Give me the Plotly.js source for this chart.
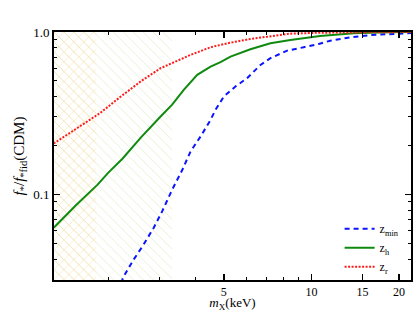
<!DOCTYPE html>
<html>
<head>
<meta charset="utf-8">
<script src="https://cdn.plot.ly/plotly-3.0.1.min.js"></script>
<style>
html,body{margin:0;padding:0;background:#fff;}
#chart{width:415px;height:312px;}
</style>
</head>
<body>
<div id="chart"></div>
<script>
// ---- data ----
const mX_min = [2.22, 2.25, 2.45, 2.65, 2.87, 3.07, 3.32, 3.6, 3.84, 4.16, 4.5, 4.68, 5.0, 5.48, 6.01, 6.68, 7.23, 8.25, 9.41, 10.6, 11.6, 13.6, 16.0, 18.7, 22.0];
const f_min  = [0.0285, 0.0308, 0.0399, 0.0493, 0.0625, 0.079, 0.107, 0.142, 0.184, 0.228, 0.288, 0.332, 0.401, 0.462, 0.520, 0.627, 0.690, 0.768, 0.806, 0.844, 0.884, 0.928, 0.958, 0.972, 0.985];

const mX_h = [1.3, 1.55, 1.84, 2.0, 2.24, 2.59, 3.03, 3.32, 3.64, 4.05, 4.5, 4.87, 5.27, 6.17, 7.23, 8.47, 10.7, 14.0, 18.0, 22.0];
const f_h  = [0.0625, 0.086, 0.115, 0.136, 0.166, 0.224, 0.302, 0.357, 0.441, 0.545, 0.612, 0.652, 0.705, 0.783, 0.852, 0.893, 0.945, 0.982, 0.995, 1.0];

const mX_r = [1.3, 1.6, 1.88, 2.2, 2.59, 3.03, 3.32, 3.84, 4.5, 4.87, 5.27, 6.17, 7.23, 8.47, 10.7, 14.0, 18.0, 22.0];
const f_r  = [0.206, 0.262, 0.318, 0.398, 0.497, 0.599, 0.643, 0.723, 0.806, 0.832, 0.860, 0.906, 0.945, 0.977, 0.990, 0.997, 1.0, 1.0];

const seriesNames = ['z<sub>min</sub>', 'z<sub>h</sub>', 'z<sub>r</sub>'];

// excluded regions (hatched): [lower mX, upper mX]
const hatchGreen  = [1.0, 3.32];
const hatchOrange = [1.0, 1.82];
const hatchY = [0.01, 1.0];

const xTickVals = [5, 10, 15, 20];
const xTickText = ['5', '10', '15', '20'];
const xMinorVals = [2, 3, 4, 6, 7, 8, 9];
const yTickVals = [0.1, 1.0];
const yTickText = ['0.1', '1.0'];
const yMinorVals = [0.03, 0.04, 0.05, 0.06, 0.07, 0.08, 0.09, 0.2, 0.3, 0.4, 0.5, 0.6, 0.7, 0.8, 0.9];

const xRange = [1.303, 22.0];
const yRange = [0.0298, 1.0];

// ---- build ----
function rect(xr, yr){
  return {x:[xr[0], xr[1], xr[1], xr[0], xr[0]], y:[yr[0], yr[0], yr[1], yr[1], yr[0]]};
}
const g = rect(hatchGreen, hatchY);
const o = rect(hatchOrange, hatchY);

const font = 'Liberation Serif, Times New Roman, serif';

function hatch(r, shape, color){
  return {x:r.x, y:r.y, mode:'lines', fill:'toself', line:{width:0, color:'rgba(0,0,0,0)'},
    fillcolor:'rgba(0,0,0,0)',
    fillpattern:{shape:shape, fgcolor:color, bgcolor:'rgba(0,0,0,0)', size:7, solidity:0.1},
    showlegend:false, hoverinfo:'skip'};
}

const traces = [
  hatch(g, '\\', 'rgba(200,222,150,0.6)'),
  hatch(o, '/',  'rgba(252,210,140,0.6)'),
  hatch(o, '\\', 'rgba(252,210,140,0.5)'),
  {x:mX_min, y:f_min, name:seriesNames[0], mode:'lines',
   line:{color:'#0a14ff', width:2, dash:'5px,4px'}},
  {x:mX_h, y:f_h, name:seriesNames[1], mode:'lines',
   line:{color:'#0f8a0f', width:2}},
  {x:mX_r, y:f_r, name:seriesNames[2], mode:'lines',
   line:{color:'#ff1a1a', width:2, dash:'2px,1.5px'}}
];

const layout = {
  width:415, height:312,
  margin:{l:53.5, r:4.3, t:32, b:31.5},
  paper_bgcolor:'#fff', plot_bgcolor:'#fff',
  font:{family:font, size:12, color:'#000'},
  showlegend:true,
  legend:{x:0.80, y:0.265, xanchor:'left', yanchor:'top', bgcolor:'rgba(0,0,0,0)',
          font:{family:font, size:12, color:'#000'}, itemwidth:30, tracegroupgap:0},
  xaxis:{type:'log', range:[Math.log10(xRange[0]), Math.log10(xRange[1])],
    tickmode:'array', tickvals:xTickVals, ticktext:xTickText,
    ticks:'inside', ticklen:6, tickwidth:1.5, tickcolor:'#000',
    minor:{tickmode:'array', tickvals:xMinorVals, ticks:'inside', ticklen:3, tickwidth:1, tickcolor:'#000', showgrid:false},
    showline:true, linewidth:2, linecolor:'#000', mirror:'allticks',
    showgrid:false, zeroline:false,
    tickfont:{family:font, size:12},
    title:{text:'<i>m</i><sub>X</sub>(keV)', font:{family:font, size:13}, standoff:3}},
  yaxis:{type:'log', range:[Math.log10(yRange[0]), Math.log10(yRange[1])],
    tickmode:'array', tickvals:yTickVals, ticktext:yTickText,
    ticks:'inside', ticklen:6, tickwidth:1.5, tickcolor:'#000',
    minor:{tickmode:'array', tickvals:yMinorVals, ticks:'inside', ticklen:3, tickwidth:1, tickcolor:'#000', showgrid:false},
    showline:true, linewidth:2, linecolor:'#000', mirror:'allticks',
    showgrid:false, zeroline:false,
    tickfont:{family:font, size:13},
    title:{text:'<i>f</i><sub>*</sub>/<i>f</i><sub>*fid</sub>(CDM)', font:{family:font, size:15}, standoff:5}}
};

Plotly.newPlot('chart', traces, layout, {displayModeBar:false, staticPlot:true});
</script>
</body>
</html>
